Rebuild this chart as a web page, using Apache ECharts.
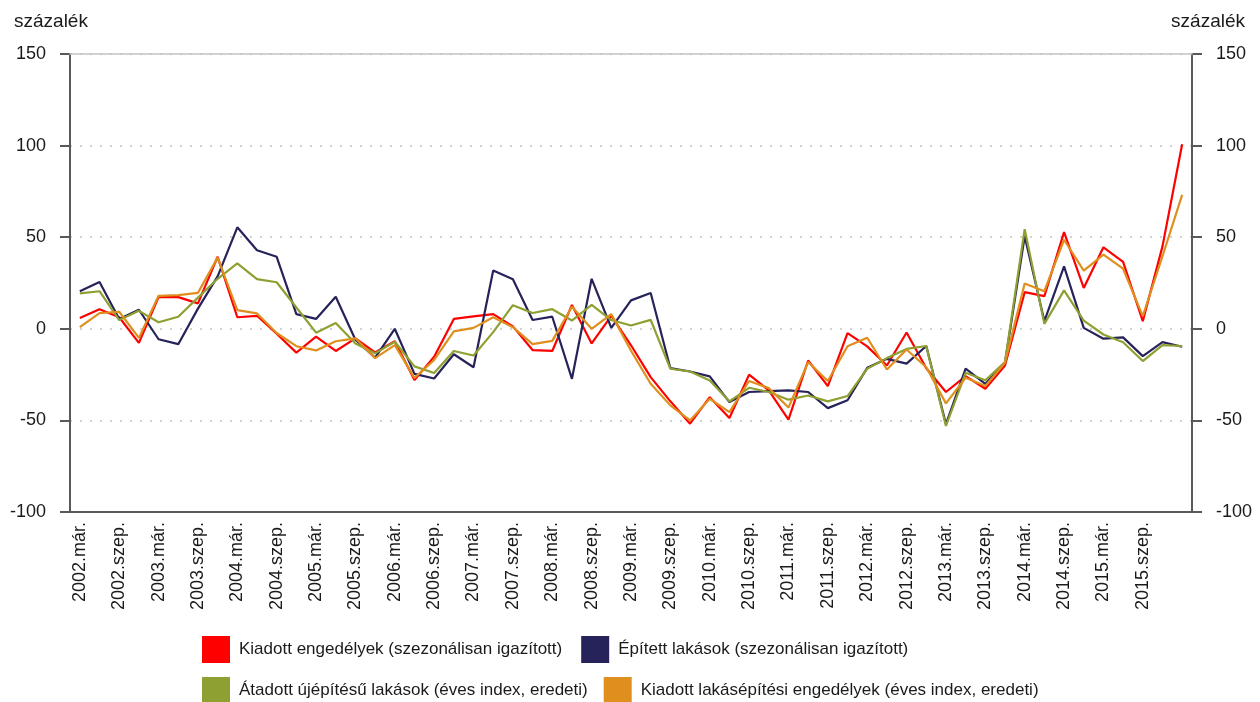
<!DOCTYPE html>
<html>
<head>
<meta charset="utf-8">
<script src="https://cdn.jsdelivr.net/npm/echarts@6/dist/echarts.min.js"></script>
<style>
  html, body { margin: 0; padding: 0; background: #fff; }
  #chart { width: 1260px; height: 702px; }
</style>
</head>
<body>
<div id="chart"></div>
<script>
// negyedéves kategóriák: 2002.már. - 2016.már.
const years = [2002, 2003, 2004, 2005, 2006, 2007, 2008, 2009, 2010, 2011, 2012, 2013, 2014, 2015, 2016]
const quarters = ['már.', 'jún.', 'szep.', 'dec.']
const categories = []
years.forEach(y => quarters.forEach(q => categories.push(y + '.' + q)))
categories.length = 57

const seriesNames = [
  'Kiadott engedélyek (szezonálisan igazított)',
  'Épített lakások (szezonálisan igazított)',
  'Átadott újépítésű lakások (éves index, eredeti)',
  'Kiadott lakásépítési engedélyek (éves index, eredeti)'
]

const kiadottSA = [5.9, 10.7, 6.3, -7.7, 17.3, 17.3, 13.9, 39.3, 6.3, 7.1, -2.7, -13, -4.3, -12.1, -5.2, -12.9, -6.8, -28, -15.2, 5.4,
  6.8, 8, 1.3, -11.6, -12.1, 13, -8, 7.1, -9, -26.4, -39.6, -51.8, -37.3, -48.7, -25, -33.6, -49.6, -17.3, -31.3, -2.4,
  -9.6, -20, -2, -21.5, -34.5, -25.8, -32.7, -20, 20, 17.8, 52.8, 22.3, 44.5, 36.5, 4.2, 45, 100.7]

const epitettSA = [20.5, 25.5, 5.4, 10.4, -5.7, -8.4, 11, 28.6, 55.4, 42.9, 39.3, 8, 5.4, 17.5, -6, -15.7, 0, -24.6, -27.1, -13.9,
  -21, 31.8, 27.1, 4.8, 6.6, -27.3, 27.3, 0.5, 15.5, 19.5, -21.5, -23.3, -26, -40, -34.5, -34, -33.6, -34.5, -43.3, -39,
  -21.3, -16.4, -19, -9.4, -52, -21.8, -30, -18.5, 50.5, 4.2, 34.1, 0.5, -5.4, -4.7, -14.9, -7.3, -9.8]

const atadottIdx = [19.3, 20.5, 4.8, 9.8, 3.6, 6.6, 17, 27.3, 35.7, 27.1, 25.4, 11.6, -2.1, 3.2, -8, -13.4, -7.1, -20.5, -24.1, -12.1,
  -14.6, -1.8, 12.9, 8.6, 10.7, 4.5, 13, 4.8, 1.8, 4.9, -21.8, -23.3, -28.2, -39.6, -32.2, -34.5, -38.7, -36.4, -39.6, -36.7,
  -21.8, -16, -11, -9.4, -53, -24, -28.1, -18.1, 54.4, 2.7, 21, 4.5, -3.1, -7.3, -17.6, -8.9, -9.4]

const engedelyIdx = [0.9, 8.6, 9.3, -5, 18, 18.4, 19.6, 38.9, 10.2, 8.4, -2.3, -9.5, -11.8, -6.8, -5.2, -16, -8.9, -26.8, -17, -1.4,
  0.5, 6.3, 0.9, -8.4, -6.6, 12, 0, 8, -12, -30, -41.8, -50, -38.2, -45.5, -28.5, -32.4, -43, -18.2, -28.5, -9.5,
  -4.9, -22.2, -11.3, -21, -40.7, -26.7, -31.2, -18.5, 24.7, 20.5, 48.6, 31.8, 40.5, 32.8, 6.9, 39.6, 73.1]

const colors = ['#ff0000', '#25235a', '#8da031', '#de8f1e']
const seriesData = [kiadottSA, epitettSA, atadottIdx, engedelyIdx]

const font = 'Liberation Sans'

const yAxisBase = {
  type: 'value',
  min: -100,
  max: 150,
  interval: 50,
  axisLine: { show: true, lineStyle: { color: '#595959', width: 2 } },
  axisTick: { show: true, inside: false, length: 10, lineStyle: { color: '#595959', width: 2 } },
  axisLabel: { color: '#1a1a1a', fontSize: 18, fontFamily: font, margin: 24 },
  splitLine: { show: true, lineStyle: { color: '#c4c4c4', width: 1.5, type: [2, 8] } }
}

const chart = echarts.init(document.getElementById('chart'))

chart.setOption({
  animation: false,
  color: colors,
  title: [
    { text: 'százalék', left: 14, top: 12, padding: 0,
      textStyle: { fontSize: 19, fontWeight: 'normal', color: '#1a1a1a', fontFamily: font } },
    { text: 'százalék', right: 15, top: 12, padding: 0,
      textStyle: { fontSize: 19, fontWeight: 'normal', color: '#1a1a1a', fontFamily: font } }
  ],
  grid: { left: 70, right: 68, top: 54, bottom: 190, containLabel: false },
  legend: [
    {
      data: [seriesNames[0], seriesNames[1]],
      left: 202, top: 636, padding: 0, itemGap: 19,
      icon: 'rect', itemWidth: 28, itemHeight: 27,
      textStyle: { fontSize: 17, fontFamily: font, color: '#1a1a1a', padding: [0, 0, 0, 4] }
    },
    {
      data: [seriesNames[2], seriesNames[3]],
      left: 202, top: 677, padding: 0, itemGap: 16,
      icon: 'rect', itemWidth: 28, itemHeight: 27,
      textStyle: { fontSize: 17, fontFamily: font, color: '#1a1a1a', padding: [0, 0, 0, 4] }
    }
  ],
  xAxis: [
    {
      type: 'category',
      data: categories,
      boundaryGap: true,
      position: 'bottom',
      z: 5,
      axisLine: { show: true, onZero: false, lineStyle: { color: '#595959', width: 2 } },
      axisTick: { show: false },
      axisLabel: {
        rotate: 90,
        margin: 10,
        fontSize: 18,
        fontFamily: font,
        color: '#1a1a1a',
        interval: (i) => i % 2 === 0 && i < 56
      },
      splitLine: { show: false }
    },
    {
      // felső keretvonal
      type: 'category',
      data: categories,
      position: 'top',
      z: 5,
      axisLine: { show: true, onZero: false, lineStyle: { color: '#c4c4c4', width: 1.5 } },
      axisTick: { show: false },
      axisLabel: { show: false },
      splitLine: { show: false }
    }
  ],
  yAxis: [
    Object.assign({}, yAxisBase, { position: 'left' }),
    Object.assign({}, yAxisBase, {
      position: 'right',
      splitLine: { show: false }
    })
  ],
  series: seriesData.map((d, i) => ({
    name: seriesNames[i],
    type: 'line',
    data: d,
    xAxisIndex: 0,
    yAxisIndex: 0,
    symbol: 'none',
    smooth: false,
    lineStyle: { color: colors[i], width: 2.2 },
    itemStyle: { color: colors[i] }
  }))
})
</script>
</body>
</html>
